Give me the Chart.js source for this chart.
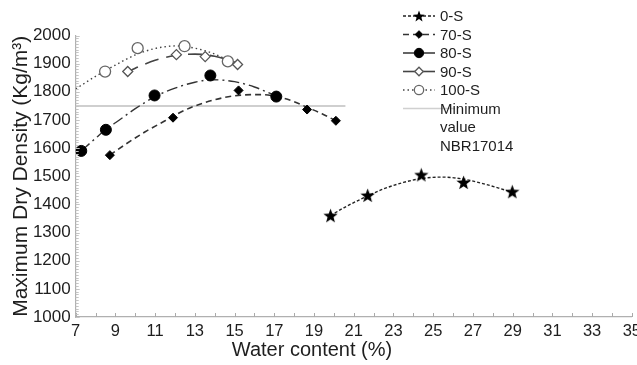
<!DOCTYPE html>
<html>
<head>
<meta charset="utf-8">
<script src="https://cdn.jsdelivr.net/npm/chart.js@4/dist/chart.umd.min.js"></script>
<style>
html,body{margin:0;padding:0;background:#fff;overflow:hidden;}
#wrap{position:absolute;left:0;top:0;width:647px;height:365px;}
</style>
</head>
<body>
<div id="wrap"><canvas id="c" width="647" height="365"></canvas></div>
<script>
// ---- data ----
const seriesNames = ['0-S', '70-S', '80-S', '90-S', '100-S'];
const limitName = ['Minimum', 'value', 'NBR17014'];
const xTitle = 'Water content (%)';
const yTitle = 'Maximum Dry Density (Kg/m³)';

const s0x = [19.83, 21.7, 24.4, 26.53, 28.98];
const s0y = [1360, 1432, 1505, 1478, 1445];
const s70x = [8.72, 11.9, 15.2, 18.65, 20.1];
const s70y = [1575, 1708, 1805, 1737, 1697];
const s80x = [7.28, 8.52, 10.97, 13.78, 17.1];
const s80y = [1590, 1665, 1787, 1858, 1783];
const s90x = [9.62, 12.07, 13.52, 15.15];
const s90y = [1872, 1932, 1925, 1897];
const s100x = [8.48, 10.12, 12.48, 14.66];
const s100y = [1872, 1955, 1962, 1908];

// fitted curves as traced on the picture
const c0x = [19.83, 20.5, 21.7, 22.5, 23.5, 24.5, 25.5, 26.5, 27.5, 28.3, 28.98];
const c0y = [1360, 1388, 1430, 1455, 1478, 1493, 1497, 1490, 1474, 1458, 1443];
const c70x = [8.72, 9.5, 10.5, 11.5, 12.5, 13.5, 14.5, 15.5, 16.3, 17.0, 18.0, 18.65, 19.4, 20.1];
const c70y = [1575, 1613, 1658, 1697, 1735, 1762, 1780, 1789, 1790, 1785, 1765, 1745, 1722, 1697];
const c80x = [7.28, 8.0, 8.52, 9.0, 10.0, 11.0, 12.0, 13.0, 13.9, 15.0, 16.0, 17.1];
const c80y = [1590, 1635, 1667, 1690, 1740, 1783, 1813, 1834, 1843, 1836, 1817, 1785];
const c90x = [9.5, 10.0, 10.5, 11.0, 11.5, 12.0, 12.5, 13.0, 13.5, 14.0, 14.5, 15.15];
const c90y = [1866, 1884, 1899, 1912, 1922, 1929, 1933, 1934, 1932, 1926, 1917, 1902];
const c100x = [7.0, 7.5, 8.0, 8.5, 9.0, 9.5, 10.0, 10.5, 11.0, 11.5, 12.0, 12.5, 13.0, 13.5, 14.0, 14.5, 15.1];
const c100y = [1810, 1833, 1855, 1875, 1895, 1914, 1931, 1944, 1954, 1960, 1963, 1961, 1955, 1946, 1934, 1918, 1898];

const limitX = [7, 20.58];
const limitY = [1750, 1750];

const xTicksMin = 7, xTicksMax = 35;
const yTicksMin = 1000, yTicksMax = 2000;

// ---- helpers ----
const pts = (xs, ys) => xs.map((x, i) => ({x: x, y: ys[i]}));
const FONT = "'Liberation Sans', Arial, Helvetica, sans-serif";
const TXT = '#1e1e1e';

function makeStar(size) {
  const c = document.createElement('canvas');
  c.width = size; c.height = size;
  const g = c.getContext('2d');
  const cx = size / 2, cy = size / 2 + 0.6, R = size / 2, r = R * 0.42;
  g.beginPath();
  for (let i = 0; i < 10; i++) {
    const a = -Math.PI / 2 + i * Math.PI / 5;
    const rr = i % 2 === 0 ? R : r;
    const px = cx + rr * Math.cos(a), py = cy + rr * Math.sin(a);
    if (i === 0) g.moveTo(px, py); else g.lineTo(px, py);
  }
  g.closePath();
  g.fillStyle = '#000';
  g.fill();
  return c;
}
const starImg = makeStar(15);
const starSmall = makeStar(12);

const styles = [
  {dash: [3, 2], width: 1.4, color: '#222', point: starImg, fill: '#000', border: '#000', r: 7, bw: 0},
  {dash: [6, 4], width: 1.6, color: '#333', point: 'rectRot', fill: '#000', border: '#000', r: 4.5, bw: 1},
  {dash: [11, 4, 2, 4], width: 1.4, color: '#333', point: 'circle', fill: '#000', border: '#000', r: 5.5, bw: 1},
  {dash: [14, 8], width: 1.6, color: '#444', point: 'rectRot', fill: '#fff', border: '#555', r: 5, bw: 1.3},
  {dash: [1.5, 3], width: 1.4, color: '#444', point: 'circle', fill: '#fff', border: '#666', r: 5.5, bw: 1.3}
];

const markerSets = [pts(s0x, s0y), pts(s70x, s70y), pts(s80x, s80y), pts(s90x, s90y), pts(s100x, s100y)];
const curveSets = [pts(c0x, c0y), pts(c70x, c70y), pts(c80x, c80y), pts(c90x, c90y), pts(c100x, c100y)];

const datasets = [];
markerSets.forEach((d, i) => {
  const s = styles[i];
  datasets.push({
    label: seriesNames[i], data: d, showLine: false,
    pointStyle: s.point, pointRadius: s.r, pointHoverRadius: s.r,
    pointBackgroundColor: s.fill, pointBorderColor: s.border, pointBorderWidth: s.bw
  });
});
curveSets.forEach((d, i) => {
  const s = styles[i];
  datasets.push({
    label: seriesNames[i] + ' fit', data: d, showLine: true, pointRadius: 0,
    borderColor: s.color, borderWidth: s.width, borderDash: s.dash, tension: 0.4,
    cubicInterpolationMode: 'monotone'
  });
});
datasets.push({
  label: limitName.join(' '), data: pts(limitX, limitY), showLine: true, pointRadius: 0,
  borderColor: '#cfcfcf', borderWidth: 2
});

// ---- decorations: inward ticks, x title and the legend ----
const decor = {
  id: 'decor',
  afterDraw(chart) {
    const ctx = chart.ctx;
    const xs = chart.scales.x, ys = chart.scales.y, a = chart.chartArea;
    ctx.save();
    ctx.strokeStyle = '#aaa';
    ctx.lineWidth = 1;
    for (let v = xTicksMin; v <= xTicksMax; v++) {
      const px = Math.round(xs.getPixelForValue(v)) + 0.5;
      ctx.beginPath(); ctx.moveTo(px, a.bottom); ctx.lineTo(px, a.bottom - 4); ctx.stroke();
    }
    ctx.strokeStyle = '#c4c4c4';
    for (let v = yTicksMin; v <= yTicksMax; v += 10) {
      const py = Math.round(ys.getPixelForValue(v)) + 0.5;
      const len = v % 100 === 0 ? 4 : 3;
      ctx.beginPath(); ctx.moveTo(a.left, py); ctx.lineTo(a.left + len, py); ctx.stroke();
    }
    // x axis title (placed as in the reference, left of the plot centre)
    ctx.fillStyle = TXT;
    ctx.font = '20px ' + FONT;
    ctx.textAlign = 'center';
    ctx.textBaseline = 'middle';
    ctx.fillText(xTitle, 312, 350.5);
    // legend
    const x0 = 403, x1 = 435, xm = 419, xt = 440;
    const rowY = [16, 34.5, 53, 71.5, 90];
    ctx.font = '15px ' + FONT;
    ctx.textBaseline = 'middle';
    ctx.textAlign = 'left';
    seriesNames.forEach((name, i) => {
      const s = styles[i];
      const y = rowY[i];
      ctx.save();
      ctx.strokeStyle = s.color;
      ctx.lineWidth = s.width;
      ctx.setLineDash(i === 3 ? [] : s.dash);
      ctx.beginPath(); ctx.moveTo(x0, y); ctx.lineTo(x1, y); ctx.stroke();
      ctx.restore();
      ctx.save();
      ctx.fillStyle = s.fill; ctx.strokeStyle = s.border; ctx.lineWidth = s.bw || 1;
      Chart.helpers.drawPoint(ctx, {
        pointStyle: i === 0 ? starSmall : s.point,
        radius: i === 0 ? 6 : s.r * 0.85, rotation: 0, borderWidth: s.bw
      }, xm, y);
      ctx.restore();
      ctx.fillStyle = TXT;
      ctx.fillText(name, xt, y + 1);
    });
    ctx.strokeStyle = '#d0d0d0';
    ctx.lineWidth = 1.5;
    ctx.beginPath(); ctx.moveTo(x0, 108.5); ctx.lineTo(x1 + 20, 108.5); ctx.stroke();
    ctx.fillStyle = TXT;
    limitName.forEach((t, i) => ctx.fillText(t, xt, 109.5 + i * 18.5));
    ctx.restore();
  }
};

new Chart(document.getElementById('c'), {
  type: 'scatter',
  data: {datasets: datasets},
  options: {
    responsive: false,
    animation: false,
    events: [],
    layout: {padding: {left: 0, top: 35.5, right: 0, bottom: 0}},
    plugins: {legend: {display: false}, tooltip: {enabled: false}},
    scales: {
      x: {
        type: 'linear', min: xTicksMin, max: xTicksMax,
        border: {display: true, color: '#b0b0b0', width: 1.2},
        grid: {display: false, drawTicks: false},
        ticks: {stepSize: 2, padding: 6, color: TXT, font: {family: FONT, size: 16.5, lineHeight: 1.0}, maxRotation: 0, autoSkip: false},
        title: {display: false},
        afterFit: (scale) => { scale.height = 48; }
      },
      y: {
        type: 'linear', min: yTicksMin, max: yTicksMax,
        border: {display: true, color: '#b0b0b0', width: 1.2},
        grid: {display: false, drawTicks: false},
        ticks: {stepSize: 100, padding: 5, color: TXT, font: {family: FONT, size: 17}, callback: (v) => String(v)},
        title: {display: true, text: yTitle, color: TXT, font: {family: FONT, size: 21, lineHeight: 1.0}, padding: {top: 11, bottom: 0}},
        afterFit: (scale) => { scale.width = 75.7; }
      }
    }
  },
  plugins: [decor]
});
</script>
</body>
</html>
